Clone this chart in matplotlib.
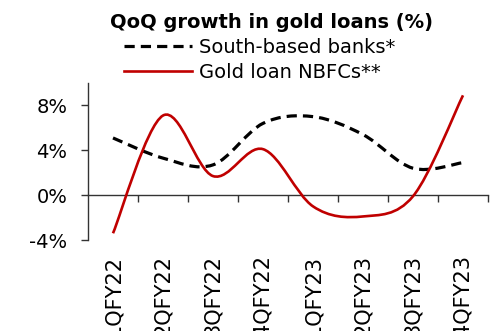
import matplotlib
matplotlib.use("Agg")
import matplotlib.pyplot as plt
from matplotlib.path import Path
from matplotlib.patches import PathPatch
from matplotlib.lines import Line2D

quarters = ["1QFY22", "2QFY22", "3QFY22", "4QFY22", "1QFY23", "2QFY23", "3QFY23", "4QFY23"]
south_banks = [5.1, 3.3, 2.7, 6.4, 7.0, 5.4, 2.4, 2.9]
nbfcs = [-3.4, 7.1, 1.7, 4.1, -1.0, -1.9, -0.1, 8.9]
y_ticks = [-4, 0, 4, 8]
y_tick_labels = ["-4%", "0%", "4%", "8%"]

FONT = "DejaVu Sans"
RED = "#C00000"


def smooth_path(xs, ys):
    """Catmull-Rom style smoothed path through the points, as cubic Beziers."""
    pts = list(zip(xs, ys))
    n = len(pts)
    verts = [pts[0]]
    codes = [Path.MOVETO]
    for i in range(n - 1):
        p0 = pts[i - 1] if i > 0 else pts[i]
        p1 = pts[i]
        p2 = pts[i + 1]
        p3 = pts[i + 2] if i + 2 < n else pts[i + 1]
        c1 = (p1[0] + (p2[0] - p0[0]) / 6, p1[1] + (p2[1] - p0[1]) / 6)
        c2 = (p2[0] - (p3[0] - p1[0]) / 6, p2[1] - (p3[1] - p1[1]) / 6)
        verts += [c1, c2, p2]
        codes += [Path.CURVE4] * 3
    return Path(verts, codes)


fig = plt.figure(figsize=(5.01, 3.31), dpi=100)
ax = fig.add_axes([88 / 501, 1 - 240 / 331, 400 / 501, 157 / 331])

x = list(range(len(quarters)))
banks_style = dict(color="black", lw=2.3, linestyle=(0, (3.2, 1.9)))
nbfc_style = dict(color=RED, lw=1.9)

ax.add_patch(PathPatch(smooth_path(x, south_banks), fill=False, capstyle="butt",
                       edgecolor=banks_style["color"], lw=banks_style["lw"],
                       linestyle=banks_style["linestyle"], zorder=3))
ax.add_patch(PathPatch(smooth_path(x, nbfcs), fill=False,
                       edgecolor=nbfc_style["color"], lw=nbfc_style["lw"], zorder=4))

ax.set_xlim(-0.5, len(quarters) - 0.5)
ax.set_ylim(-4, 10)

# Axes styling
for side in ("top", "right"):
    ax.spines[side].set_visible(False)
ax.spines["bottom"].set_position(("data", 0))
ax.spines["bottom"].set_color("#333333")
ax.spines["left"].set_color("#333333")
ax.spines["bottom"].set_linewidth(1.0)
ax.spines["left"].set_linewidth(1.0)

ax.set_yticks(y_ticks)
ax.set_yticklabels(y_tick_labels, fontsize=14, family=FONT)
ax.tick_params(axis="y", length=5, width=1.0, color="#333333", pad=10)

ax.set_xticks(x)
ax.set_xticklabels(quarters, rotation=90, fontsize=15, family=FONT, va="top")
ax.tick_params(axis="x", which="major", length=0, pad=43)
ax.set_xticks([i + 0.5 for i in x], minor=True)
ax.tick_params(axis="x", which="minor", length=5, width=1.0, color="#333333", direction="out")

fig.text(272 / 501, 1 - 22 / 331, "QoQ growth in gold loans (%)", ha="center", va="center",
         fontsize=14, fontweight="bold", family=FONT)

handles = [Line2D([], [], **banks_style), Line2D([], [], **nbfc_style)]
fig.legend(handles, ["South-based banks*", "Gold loan NBFCs**"],
           loc="upper left", bbox_to_anchor=(124 / 501, 1 - 38 / 331),
           frameon=False, prop={"family": FONT, "size": 14},
           handlelength=3.5, handletextpad=0.35, labelspacing=0.3, borderaxespad=0, borderpad=0)

fig.savefig("out.png", dpi=100)
